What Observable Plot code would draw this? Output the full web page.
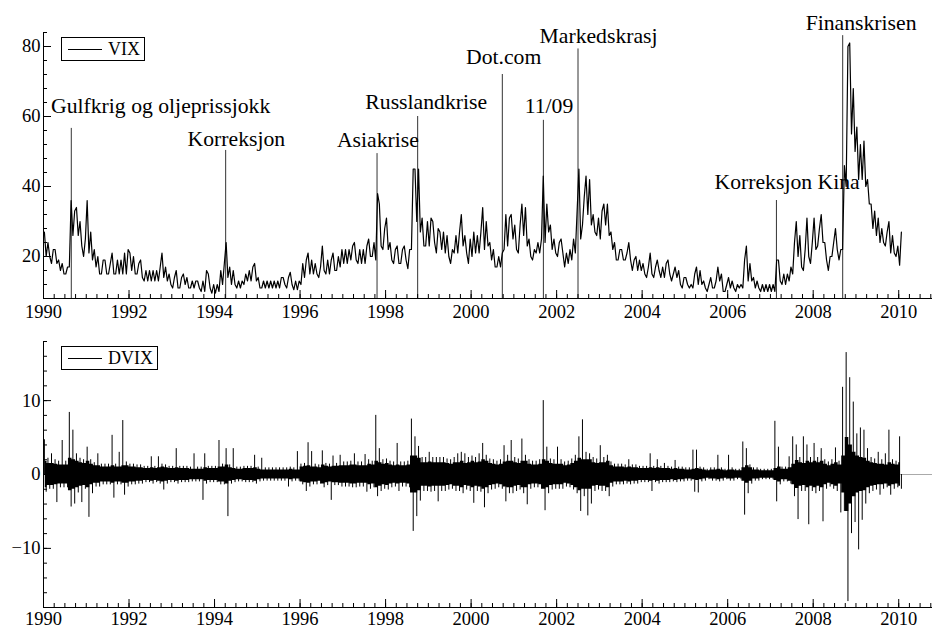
<!DOCTYPE html>
<html><head><meta charset="utf-8">
<script src="https://cdn.jsdelivr.net/npm/d3@7"></script>
<script src="https://cdn.jsdelivr.net/npm/@observablehq/plot@0.6"></script>
<style>
body{margin:0;background:#fff;}
#wrap{position:relative;width:932px;height:628px;font-family:"Liberation Serif","Times New Roman",serif;}
#wrap svg{display:block;}
.leg{position:absolute;border:1px solid #000;background:#fff;box-sizing:border-box;font-size:18px;line-height:18px;color:#000;}
.leg .ln{position:absolute;left:6px;width:34px;top:11px;border-top:1px solid #000;}
.leg .tx{position:absolute;left:46px;top:2px;white-space:nowrap;}
</style></head><body><div id="wrap"></div>
<script>
// ---- VIX: monthly low / high (Jan 1990 .. Jan 2010)
const vixLo = [
20,20,18,18,16,15,15,17,26,26,23,20,
21,19,17,15,15,15,15,15,15,15,15,15,
16,15,15,14,13,13,13,13,13,14,13,12,
11,11,11,12,11,11,11,11,10,10,11,9.5,
9.5,10,12,14,12,12,11,11,12,13,13,13,
11,11,11,11,11,11,11,12,11,12,10.5,10.5,
12,14,15,15,15,14,16,15,15,16,16,17,
18,18,19,19,18,18,18,20,20,19,23,22,
22,19,18,18,18,19,16.5,22,30,27,23,23,
23,24,21,22,21,20,18,21,21,23,21,18,
20,21,21,22,23,19,17,17,17,22,23,25,
22,21,26,23,20,19,21,21,24,27,22,21,
20,21,17,18,19,21,25,29,32,29,27,26,
25,29,26,22,19,19,19,19,19,16,16,16,
15,14,15,14,16,14,14,15,13,14,12,11,
12,11,11,12,12,11,10,11,11,13,10,10,
11,11,10,11,11,13,13,11,11,10,10,10,
10,10,13,12,12,13,15,20,17,16,20,18,
22,23,24,19,16,20,22,19,22,40,55,50,
42,42,40,35,28,26,24,24,23,21,21,20,
17.5];
const vixHi = [
27,24,22,22,19,18,17,36,33,34,30,25,
36,27,22,20,19,19,18,21,19,19,21,22,
21,20,18,19,16,16,16,16,17,21,17,15,
14,16,14,15,14,13,13,13,13,16,15,12,
12,16,18,24,17,16,13,13,15,16,17,18,
14,13,13,13,13,13,14,14,14,15.5,13,13,
18,19,21,19,18,17,23,19,19,21,20,22,
22,22,23,24,22,22,23,25,24,38,35,28,
31,24,22,23,22,23,22,45,45,45,31,30,
31,30,28,27,27,26,22,26,27,32,26,25,
27,26,27,34,30,24,22,20,21,32,31,32,
29,29,35,34,25,22,24,25,43,35,29,25,
24,25,21,22,25,33,45,37,43,42,32,31,
33,35,35,27,24,22,22,21,24,19,20,19,
18,17,21,17,19,17,18,19,15,17,16,14,
14,12,15,17,16,13,12,14,13,17,15,12,
14,13,12,12,19,23,18,14,13,12,12,12,
12,19,19,15,15,17,24,30,26,22,31,24,
31,28,32,24,20,24,28,22,46,80,81,68,
57,52,53,42,35,33,31,28,27,30,26,23,
27];

// ---- DVIX: monthly dense-band half width, largest rise, largest fall
const dvCore = [
1.8,1.5,1.5,1.4,1.3,1.3,1.3,2.2,2.0,1.8,1.6,1.5,
1.8,1.4,1.2,1.2,1.0,1.0,1.0,1.2,1.0,1.0,1.2,1.2,
1.0,1.0,0.9,0.9,0.8,0.8,0.9,0.8,0.9,1.0,0.9,0.8,
0.8,0.9,0.8,0.8,0.8,0.7,0.7,0.7,0.7,0.9,0.8,0.8,
0.8,1.0,1.0,1.3,0.9,0.8,0.7,0.7,0.8,0.8,0.8,0.9,
0.7,0.6,0.6,0.6,0.6,0.6,0.6,0.6,0.6,0.7,0.6,0.6,
1.0,1.1,1.2,1.0,1.0,0.9,1.3,1.1,1.0,1.1,1.1,1.2,
1.2,1.2,1.3,1.3,1.2,1.2,1.2,1.4,1.3,1.8,1.6,1.4,
1.5,1.3,1.2,1.3,1.2,1.2,1.3,2.5,2.5,2.2,1.6,1.6,
1.7,1.6,1.6,1.6,1.6,1.5,1.4,1.6,1.6,1.8,1.5,1.6,
1.8,1.6,1.7,2.0,1.8,1.5,1.4,1.3,1.4,1.7,1.8,1.8,
1.6,1.5,1.8,1.8,1.4,1.3,1.3,1.4,2.0,1.8,1.5,1.4,
1.4,1.4,1.2,1.3,1.5,1.8,2.2,2.0,2.0,2.0,1.6,1.5,
1.6,1.6,1.8,1.2,1.0,1.0,1.0,0.9,1.0,0.9,0.9,0.8,
0.8,0.8,0.9,0.8,0.9,0.8,0.8,0.8,0.7,0.8,0.7,0.7,
0.6,0.6,0.7,0.8,0.7,0.6,0.5,0.6,0.6,0.7,0.6,0.5,
0.6,0.6,0.5,0.5,0.9,1.2,0.9,0.6,0.6,0.5,0.5,0.5,
0.5,0.8,1.0,0.7,0.7,0.9,1.4,1.9,1.6,1.5,1.8,1.6,
1.8,1.6,1.8,1.4,1.2,1.4,1.6,1.3,2.5,5.0,4.0,3.0,
2.5,2.3,2.2,1.8,1.6,1.5,1.4,1.4,1.3,1.6,1.4,1.3,
1.6];
const dvUp = [
4.7,2.2,2.8,2.0,1.8,4.6,1.8,8.4,6.0,2.8,2.2,2.0,
3.7,2.0,1.6,2.8,1.4,1.4,1.4,5.3,1.4,3.0,7.3,1.7,
1.4,1.4,1.3,1.3,1.1,1.1,2.4,1.1,2.4,1.4,1.3,1.1,
1.1,3.5,1.1,1.1,1.1,1.0,2.8,1.0,1.0,2.8,1.1,1.1,
1.1,4.6,1.4,3.5,1.3,3.5,1.0,1.0,1.1,1.1,1.1,2.6,
1.0,2.2,0.9,0.9,0.9,0.9,0.9,0.9,0.9,1.0,0.9,3.1,
1.4,1.5,4.3,3.1,1.4,1.3,3.2,1.5,1.4,2.5,1.5,2.6,
1.7,1.7,1.8,2.8,1.7,1.7,2.7,2.0,1.8,8.0,3.5,2.0,
2.1,1.8,1.7,4.2,1.7,1.7,1.8,7.5,5.1,3.8,2.3,2.3,
3.0,2.3,2.3,2.3,2.3,2.1,2.0,2.3,2.8,3.0,2.8,2.3,
2.5,2.3,2.8,4.2,2.6,2.1,2.0,1.8,2.0,3.9,2.6,4.6,
2.3,2.1,4.8,2.6,2.0,1.8,1.8,2.0,10.0,3.7,2.1,2.0,
3.7,2.0,1.7,1.8,2.1,2.6,5.1,7.4,3.0,2.8,2.3,2.1,
3.9,2.3,2.6,1.7,1.4,1.4,1.4,1.3,2.0,1.3,1.3,1.1,
1.1,1.1,2.8,1.1,2.0,1.1,1.5,1.1,1.0,1.9,1.0,1.0,
0.9,0.9,3.3,3.3,1.0,0.9,0.7,0.9,0.9,2.6,0.9,0.7,
2.6,0.9,0.7,0.7,4.4,3.5,1.3,0.9,0.9,0.7,0.7,0.7,
0.7,7.2,3.7,1.0,1.0,2.4,5.1,4.0,2.3,5.1,4.0,2.3,
4.2,2.3,3.5,2.0,1.7,2.0,3.6,1.8,11.8,16.5,13.1,9.8,
5.5,6.3,6.0,3.5,2.3,2.1,3.0,2.0,2.8,6.0,2.0,1.8,
5.1];
const dvDown = [
-2.4,-2.0,-2.0,-3.8,-1.8,-1.8,-1.8,-4.4,-4.0,-2.5,-3.8,-2.0,
-5.8,-2.6,-1.7,-1.7,-1.4,-1.4,-1.4,-3.2,-1.4,-1.4,-2.8,-1.7,
-1.4,-1.4,-1.3,-1.3,-1.1,-1.1,-1.3,-1.1,-1.3,-2.1,-1.3,-1.1,
-1.1,-1.3,-1.1,-1.1,-1.1,-1.0,-1.0,-1.0,-3.5,-1.3,-1.1,-1.1,
-1.1,-1.4,-1.4,-5.7,-1.3,-1.1,-1.0,-1.0,-1.1,-1.1,-1.1,-1.3,
-1.0,-0.9,-0.9,-0.9,-0.9,-0.9,-0.9,-0.9,-1.7,-1.0,-0.9,-0.9,
-1.4,-2.3,-1.7,-1.4,-1.4,-1.3,-1.8,-1.5,-3.5,-1.5,-1.5,-1.7,
-1.7,-1.7,-1.8,-1.8,-1.7,-1.7,-2.4,-2.0,-1.8,-3.0,-2.3,-2.0,
-2.1,-1.8,-1.7,-2.3,-1.7,-1.7,-1.8,-7.7,-5.7,-3.6,-2.3,-2.3,
-2.4,-2.3,-3.7,-2.3,-2.3,-2.1,-2.0,-2.3,-2.3,-2.6,-2.1,-2.3,
-3.9,-2.3,-2.4,-4.5,-2.6,-2.1,-2.0,-1.8,-2.0,-3.7,-2.6,-2.6,
-2.3,-2.1,-2.6,-4.1,-2.0,-1.8,-1.8,-2.0,-4.9,-2.6,-2.1,-2.0,
-2.0,-2.0,-1.7,-1.8,-2.1,-2.6,-5.0,-3.0,-5.6,-4.0,-2.3,-2.1,
-2.3,-2.3,-3.0,-1.7,-1.4,-1.4,-1.4,-1.3,-1.4,-1.3,-1.3,-1.1,
-1.1,-1.1,-2.3,-1.1,-1.3,-1.1,-1.1,-1.1,-1.0,-1.1,-1.0,-1.0,
-0.9,-0.9,-2.4,-2.5,-1.0,-0.9,-0.7,-0.9,-0.9,-1.0,-0.9,-0.7,
-0.9,-0.9,-0.7,-0.7,-5.5,-2.6,-1.3,-0.9,-0.9,-0.7,-0.7,-0.7,
-0.7,-3.7,-1.4,-1.0,-1.0,-1.3,-3.0,-6.1,-2.3,-2.3,-6.8,-2.3,
-2.6,-2.3,-6.4,-2.0,-1.7,-2.0,-2.3,-5.2,-5.0,-17.2,-8.0,-6.5,
-10.2,-6.2,-4.0,-2.6,-2.3,-2.1,-2.8,-2.0,-1.8,-2.8,-2.0,-1.8,
-2.0];

// ---- annotated events: date of line, top of line, label centre
const evName  = ["Gulfkrig og oljeprissjokk","Korreksjon","Asiakrise","Russlandkrise","Dot.com","11/09","Markedskrasj","Korreksjon Kina","Finanskrisen"];
const evDate  = [1990.65, 1994.26, 1997.80, 1998.75, 2000.73, 2001.69, 2002.50, 2007.14, 2008.69];
const evTop   = [56.6, 50.3, 49.4, 60.0, 72.0, 58.9, 79.3, 36.0, 83.1];
const evLabX  = [1992.74, 1994.51, 1997.82, 1998.95, 2000.76, 2001.82, 2002.98, 2007.39, 2009.12];
const evLabY  = [63.0, 53.7, 53.4, 64.0, 76.9, 63.1, 83.0, 41.2, 86.7];

// ---- axes
const xDomain = [1990, 2010.79];
const xMajor = [1990,1992,1994,1996,1998,2000,2002,2004,2006,2008,2010];
const xMinor = d3.range(1990, 2010.8, 0.25);
const vixDomain = [8, 84];
const vixMajor = [20, 40, 60, 80];
const vixMinor = d3.range(8, 84.1, 4);
const dvDomain = [-18, 18];
const dvMajor = [-10, 0, 10];
const dvMinor = d3.range(-18, 18.1, 2);

// ---- build rows
const nM = vixLo.length;
const mid = i => (vixLo[i] + vixHi[i]) / 2;
const vixPts = [];
for (let i = 0; i < nM; i++) {
  const t = 1990 + i / 12;
  const rising = i + 1 < nM ? mid(i + 1) >= mid(i) : true;
  const a = rising ? vixLo[i] : vixHi[i];
  const b = rising ? vixHi[i] : vixLo[i];
  vixPts.push({t: t + 0.25 / 12, v: a}, {t: t + 0.75 / 12, v: b});
}
const dvRows = dvCore.map((c, i) => ({t: 1990 + (i + 0.5) / 12, lo: -c, hi: c, up: dvUp[i], dn: dvDown[i]}));
const events = evName.map((n, i) => ({name: n, t: evDate[i], top: evTop[i], lx: evLabX[i], ly: evLabY[i]}));

const W = 932, ML = 43, MR = 0;
const plotW = W - ML - MR;
const font = '"Liberation Serif", "Times New Roman", serif';
const minusFmt = d => d < 0 ? "\u2212" + (-d) : String(d);

function frameMarks(yDom, yMajor, yMinor, plotH, xPad, fmtY) {
  return [
    Plot.ruleX(xMinor, {x: d => d, stroke: "black", insetTop: plotH - 4}),
    Plot.ruleX(xMajor, {x: d => d, stroke: "black", insetTop: plotH - 8}),
    Plot.ruleY(yMinor, {y: d => d, stroke: "black", insetRight: plotW - 4}),
    Plot.ruleY(yMajor, {y: d => d, stroke: "black", insetRight: plotW - 8}),
    Plot.ruleY([yDom[0]], {stroke: "black"}),
    Plot.ruleX([xDomain[0]], {stroke: "black"}),
    Plot.axisX({ticks: xMajor, tickSize: 0, tickPadding: xPad, tickFormat: d => String(d), fontSize: 18.5}),
    Plot.axisY({ticks: yMajor, tickSize: 0, tickPadding: 3, tickFormat: fmtY, fontSize: 18.5})
  ];
}

const H1 = 326, MT1 = 32, MB1 = 28;
const chartTop = Plot.plot({
  width: W, height: H1, marginLeft: ML, marginRight: MR, marginTop: MT1, marginBottom: MB1,
  style: {fontFamily: font, fontSize: "18.5px", background: "white", color: "black", overflow: "visible"},
  x: {domain: xDomain, label: null},
  y: {domain: vixDomain, label: null},
  marks: [
    Plot.ruleX(events, {x: "t", y1: () => vixDomain[0], y2: "top", stroke: "#333", strokeWidth: 1}),
    Plot.line(vixPts, {x: "t", y: "v", stroke: "black", strokeWidth: 1.2}),
    Plot.text(events, {x: "lx", y: "ly", text: "name", fontSize: 21.7, lineAnchor: "middle", textAnchor: "middle", fill: "black"}),
    ...frameMarks(vixDomain, vixMajor, vixMinor, H1 - MT1 - MB1, 6, d => String(d))
  ]
});

const H2 = 302, MT2 = 15, MB2 = 21;
const chartBottom = Plot.plot({
  width: W, height: H2, marginLeft: ML, marginRight: MR, marginTop: MT2, marginBottom: MB2,
  style: {fontFamily: font, fontSize: "18.5px", background: "white", color: "black", overflow: "visible"},
  x: {domain: xDomain, label: null},
  y: {domain: dvDomain, label: null},
  marks: [
    Plot.ruleY([0], {stroke: "#aaa", strokeWidth: 1}),
    Plot.areaY(dvRows, {x: "t", y1: "lo", y2: "hi", fill: "black", curve: "step"}),
    Plot.ruleX(dvRows, {x: "t", dx: -0.9, y1: () => 0, y2: "up", stroke: "black", strokeWidth: 1}),
    Plot.ruleX(dvRows, {x: "t", dx: 0.9, y1: "dn", y2: () => 0, stroke: "black", strokeWidth: 1}),
    ...frameMarks(dvDomain, dvMajor, dvMinor, H2 - MT2 - MB2, 4, minusFmt)
  ]
});

const wrap = document.getElementById("wrap");
wrap.appendChild(chartTop);
wrap.appendChild(chartBottom);

function legend(label, left, topPx, width) {
  const d = document.createElement("div");
  d.className = "leg";
  d.style.left = left + "px"; d.style.top = topPx + "px";
  d.style.width = width + "px"; d.style.height = "24px";
  d.innerHTML = '<div class="ln"></div><div class="tx"></div>';
  d.querySelector(".tx").textContent = label;
  wrap.appendChild(d);
}
legend("VIX", 61, 37, 84);
legend("DVIX", 61, 346, 97);
</script></body></html>
